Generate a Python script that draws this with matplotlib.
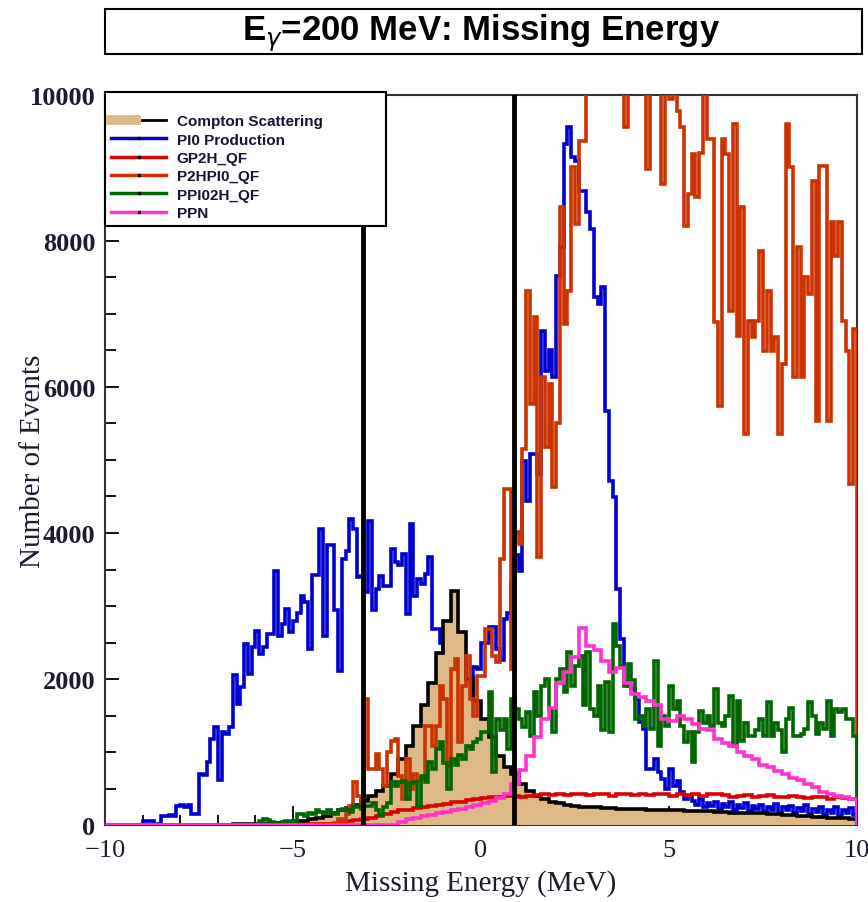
import numpy as np
import matplotlib
matplotlib.use("Agg")
import matplotlib.pyplot as plt
from matplotlib.lines import Line2D
from matplotlib.patches import Rectangle
from matplotlib.legend_handler import HandlerTuple
from matplotlib.ticker import MultipleLocator

# histogram ranges (MeV)
x_min, x_max = -10.0, 10.0
cut_lo, cut_hi = -3.13, 0.87

# fine binning (0.1 MeV) for the noisy channels
pi0_production = [
    0, 0, 0, 0, 0, 0, 0, 0, 0, 0,
    60, 60, 60, 0, 20, 130, 120, 140, 130, 260,
    270, 250, 270, 150, 150, 700, 690, 860, 1180, 1340,
    610, 1270, 1250, 1340, 2050, 1660, 1890, 2480, 2070, 2440,
    2660, 2340, 2440, 2620, 2620, 3480, 2590, 2760, 2960, 2640,
    2800, 2900, 3140, 3050, 2410, 3420, 3420, 4050, 2590, 3830,
    3830, 2940, 2110, 3640, 3760, 4190, 4050, 3400, 3410, 3190,
    4170, 2940, 3230, 3415, 3280, 3280, 3780, 3600, 3560, 3710,
    2890, 4120, 3140, 3370, 3300, 3440, 3670, 2690, 2690, 2500,
    2400, 2300, 2200, 2100, 2000, 1800, 1700, 1600, 2160, 2140,
    2500, 2500, 2710, 2710, 2410, 2260, 2820, 2900, 3300, 3700,
    3480, 4990, 4440, 5080, 5080, 4810, 6770, 6220, 6500, 6140,
    7520, 7920, 9330, 9560, 9150, 9100, 8690, 8690, 8400, 8170,
    7230, 7140, 7370, 5670, 4710, 4490, 3230, 2550, 1960, 1900,
    1860, 1730, 1410, 1320, 770, 770, 900, 730, 630, 490,
    770, 530, 600, 450, 360, 400, 330, 280, 350, 240,
    300, 260, 320, 220, 290, 250, 310, 200, 270, 230,
    300, 190, 260, 220, 280, 180, 250, 210, 290, 170,
    240, 200, 260, 160, 230, 190, 270, 150, 220, 180,
    250, 140, 210, 170, 240, 130, 200, 160, 230, 140,
]

p2hpi0_qf = [0] * 60 + [
    0, 30, 80, 60, 150, 260, 590, 400, 300, 1730,
    770, 770, 970, 770, 530, 1000, 1150, 1180, 670, 360,
    900, 490, 700, 600, 650, 1360, 1360, 1080, 1360, 1900,
    1730, 810, 2140, 2270, 1140, 1900, 2320, 1730, 1500, 2040,
    2040, 2690, 2690, 2320, 2230, 3640, 4600, 4600, 2140, 4010,
    3850, 5150, 7320, 5770, 6960, 3670, 6140, 5180, 6040, 4630,
    5500, 8470, 6860, 7320, 9010, 8230, 9370, 9370, 10600, 10400,
    11000, 10800, 11200, 10500, 11000, 10700, 11300, 10600, 9560, 10400,
    10900, 11100, 10500, 10800, 8990, 10300, 10600, 10100, 8780, 10200,
    9950, 10300, 9780, 9560, 8210, 8640, 9190, 8600, 9200, 10200,
    9400, 9400, 6890, 5740, 9400, 9190, 7040, 9600, 6700, 8470,
    5360, 6900, 6690, 6900, 7860, 6490, 7320, 6490, 6690, 5360,
    6320, 9600, 9010, 6140, 7920, 6140, 7510, 7270, 8820, 5530,
    9030, 9030, 5530, 8260, 7800, 8260, 6900, 6490, 4670, 6800,
]

ppi02h_qf = [0] * 40 + [
    0, 60, 80, 70, 40, 30, 20, 40, 60, 50,
    40, 150, 150, 130, 160, 150, 200, 180, 170, 200,
    160, 150, 200, 220, 200, 180, 260, 250, 220, 260,
    260, 300, 200, 140, 250, 300, 590, 540, 590, 600,
    360, 570, 590, 260, 670, 590, 860, 770, 1040, 1140,
    850, 490, 900, 820, 960, 900, 1080, 1040, 1140, 1180,
    1270, 1270, 1820, 730, 1450, 1300, 1450, 1040, 1730, 1590,
    1450, 1340, 1550, 1220, 1820, 1500, 1900, 2000, 1590, 1270,
    2000, 2140, 1820, 2370, 1900, 2180, 2320, 1650, 2370, 1590,
    1500, 1900, 1300, 1960, 1270, 2750, 2450, 2180, 1900, 2210,
    1990, 1450, 1500, 1360, 1590, 1320, 2250, 1080, 1500, 1360,
    1900, 1590, 1700, 1360, 1140, 1270, 860, 1270, 1560, 1400,
    1500, 1360, 1860, 1400, 1360, 1500, 1770, 1080, 1700, 1150,
    1400, 1220, 1220, 1300, 1450, 1220, 1680, 1220, 1400, 1300,
    1000, 1450, 1600, 1220, 1220, 1250, 1320, 1680, 1500, 1250,
    1400, 1320, 1700, 1220, 1590, 1550, 1590, 1450, 1450, 1220,
]

# coarse binning (0.2 MeV) for the smooth channels
compton = [0] * 15 + [
    5, 5, 10, 10, 15,
    15, 20, 25, 30, 40, 50, 60, 80, 100, 130,
    170, 200, 230, 280, 330, 400, 470, 540, 700, 900,
    1080, 1350, 1650, 1950, 2350, 2800, 3200, 2650, 2000, 1700,
    1450, 1200, 950, 800, 700, 560, 470, 400, 360, 320,
    300, 280, 260, 250, 250, 240, 235, 230, 225, 220,
    220, 215, 210, 210, 205, 200, 200, 195, 190, 190,
    185, 180, 175, 170, 170, 165, 160, 160, 155, 150,
    140, 135, 130, 120, 115, 110, 100, 95, 90, 80,
]

gp2h_qf = [0] * 26 + [
    5, 10, 10, 15,
    20, 30, 50, 70, 80, 100, 120, 150, 180, 200,
    210, 230, 250, 260, 280, 290, 310, 320, 340, 350,
    370, 380, 390, 400, 400, 390, 400, 410, 420, 410,
    420, 410, 420, 430, 410, 420, 430, 400, 420, 430,
    410, 420, 410, 430, 420, 400, 420, 410, 430, 400,
    420, 420, 410, 390, 400, 410, 380, 400, 410, 390,
    380, 400, 390, 370, 380, 390, 360, 380, 370, 360,
]

ppn = [0] * 39 + [
    40,
    80, 100, 120, 140, 160, 180, 200, 220, 240, 270,
    300, 330, 370, 420, 560, 750, 950, 1200, 1450, 1600,
    1950, 2100, 2300, 2700, 2450, 2400, 2250, 2100, 2150, 1950,
    1800, 1750, 1700, 1650, 1450, 1420, 1500, 1450, 1380, 1320,
    1300, 1180, 1120, 1080, 1000, 950, 900, 820, 800, 740,
    700, 640, 620, 560, 520, 450, 430, 400, 380, 360,
]

labels = ["Compton Scattering", "PI0 Production", "GP2H_QF",
          "P2HPI0_QF", "PPI02H_QF", "PPN"]

c_fill = "#deb887"
c_blue = "#0000d0"
c_red = "#dd0000"
c_orange = "#cc3300"
c_green = "#006600"
c_pink = "#ff33cc"

plt.rcParams["font.family"] = ["Liberation Serif", "DejaVu Serif"]

edges_fine = np.linspace(x_min, x_max, len(pi0_production) + 1)
edges_coarse = np.linspace(x_min, x_max, len(compton) + 1)

fig = plt.figure(figsize=(8.68, 9.03), dpi=100)
ax = fig.add_axes([105 / 868, 1 - 826 / 903, 752 / 868, 730 / 903])

lw = 2.6
ax.stairs(pi0_production, edges_fine, color=c_blue, lw=lw, zorder=2)
ax.stairs(compton, edges_coarse, fill=True, color=c_fill, zorder=3)
ax.stairs(compton, edges_coarse, color="black", lw=lw, zorder=3.1)
ax.stairs(gp2h_qf, edges_coarse, color=c_red, lw=lw, zorder=4)
ax.stairs(p2hpi0_qf, edges_fine, color=c_orange, lw=lw, zorder=5)
ax.stairs(ppi02h_qf, edges_fine, color=c_green, lw=lw, zorder=6)
ax.stairs(ppn, edges_coarse, color=c_pink, lw=lw, zorder=7)

# selection cuts
ax.axvline(cut_lo, color="black", lw=3.5, zorder=8)
ax.axvline(cut_hi, color="black", lw=3.5, zorder=8)

ax.set_xlim(x_min, x_max)
ax.set_ylim(0, 10000)
ax.xaxis.set_major_locator(MultipleLocator(5))
ax.xaxis.set_minor_locator(MultipleLocator(1))
ax.yaxis.set_major_locator(MultipleLocator(2000))
ax.yaxis.set_minor_locator(MultipleLocator(500))
ax.tick_params(which="both", direction="in", top=False, right=False,
               labelcolor="#1c1c30", width=1.3)
ax.tick_params(axis="x", which="major", length=14, pad=10, labelsize=19)
ax.tick_params(axis="x", which="minor", length=7)
ax.tick_params(axis="y", which="major", length=10, pad=7, labelsize=19)
ax.tick_params(axis="y", which="minor", length=8)
for lbl in ax.get_yticklabels():
    lbl.set_fontweight("bold")
for s in ax.spines.values():
    s.set_linewidth(1.5)
    s.set_color("#333333")

ax.set_xlabel("Missing Energy (MeV)", fontsize=21, color="#1c1c30")
ax.set_ylabel("Number of Events", fontsize=21, color="#1c1c30")
ax.xaxis.set_label_coords(0.5, -0.06)
ax.yaxis.set_label_coords(-0.078, 0.5)

# legend
handles = [
    (Line2D([], [], color=c_fill, lw=7), Line2D([], [], color="black", lw=2)),
    Line2D([], [], color=c_blue, lw=2.5, marker="s", ms=1.5, mfc="black", mec="black"),
    Line2D([], [], color=c_red, lw=2.5, marker="s", ms=1.5, mfc="black", mec="black"),
    Line2D([], [], color=c_orange, lw=2.5, marker="s", ms=1.5, mfc="black", mec="black"),
    Line2D([], [], color=c_green, lw=2.5, marker="s", ms=1.5, mfc="black", mec="black"),
    Line2D([], [], color=c_pink, lw=2.5, marker="s", ms=1.5, mfc="black", mec="black"),
]
leg = ax.legend(handles, labels, loc="upper left", bbox_to_anchor=(0, 0, 0.374, 1.004),
                mode="expand", borderaxespad=0, fancybox=False, framealpha=1,
                edgecolor="black", title=" ", title_fontsize=9,
                prop={"family": ["Liberation Sans", "DejaVu Sans"], "weight": "bold", "size": 11},
                handlelength=3.6, handletextpad=0.7, labelspacing=0.28, borderpad=0.4,
                numpoints=1, handler_map={tuple: HandlerTuple(ndivide=None)})
leg.get_frame().set_linewidth(1.5)
leg.set_zorder(10)
for t in leg.get_texts():
    t.set_color("#151530")

# title box
fig.add_artist(Rectangle((105 / 868, 1 - 55 / 903), 757 / 868, 45 / 903,
                         transform=fig.transFigure, facecolor="white",
                         edgecolor="black", lw=1.5))
fig.text(481 / 868, 1 - 33 / 903, r"E$_{\gamma}$=200 MeV: Missing Energy",
         ha="center", va="center", fontsize=25, fontweight="bold",
         family=["Liberation Sans", "DejaVu Sans"])

fig.savefig("out.png", dpi=100)
